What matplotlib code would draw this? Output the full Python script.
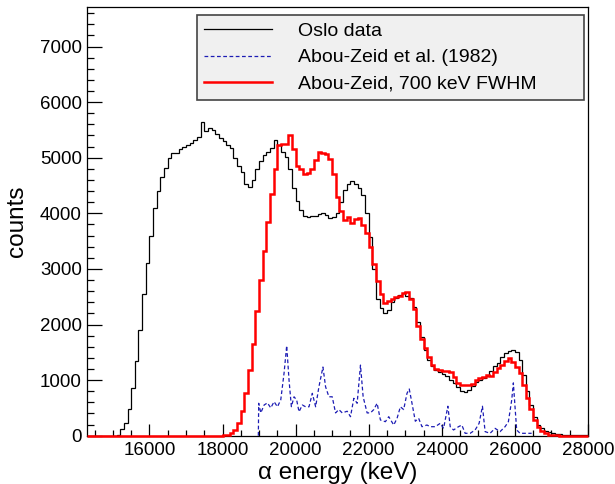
import numpy as np
import matplotlib
matplotlib.use("Agg")
import matplotlib.pyplot as plt
from matplotlib.ticker import MultipleLocator

plt.rcParams['font.family'] = ['Liberation Sans', 'DejaVu Sans']

# ---------------- data ----------------
bin_width = 100
x_min, x_max = 14300, 28000

oslo_start = 15000
oslo_counts = [0, 20, 120, 230, 480, 850, 1350, 1900, 2550, 3100,
               3600, 4100, 4400, 4650, 4820, 5000, 5080, 5090, 5150, 5200,
               5230, 5270, 5320, 5380, 5650, 5480, 5530, 5500, 5420, 5360,
               5300, 5230, 5180, 5000, 4850, 4750, 4520, 4480, 4600, 4800,
               4950, 5050, 5100, 5180, 5320, 5230, 5100, 5020, 4800, 4450,
               4220, 4060, 3950, 3940, 3950, 3960, 3980, 4010, 3970, 3920,
               3940, 4000, 4200, 4420, 4520, 4590, 4530, 4450, 4330, 4000,
               3580, 3000, 2450, 2300, 2200, 2260, 2400, 2480, 2530, 2560,
               2520, 2480, 2320, 2050, 1780, 1540, 1360, 1250, 1190, 1150,
               1110, 1080, 1000, 950, 880, 800, 790, 830, 900, 960,
               1000, 1040, 1080, 1170, 1250, 1310, 1420, 1490, 1520, 1540,
               1510, 1360, 1100, 800, 560, 340, 200, 130, 90, 60,
               40, 30, 25, 20, 15, 10, 8, 5, 5, 5]

fold_start = 18000
fold_counts = [5, 20, 50, 110, 230, 450, 760, 1180, 1650, 2250,
               2800, 3330, 3850, 4350, 4800, 5230, 5240, 5250, 5410, 5150,
               4850, 4790, 4700, 4720, 4800, 4960, 5100, 5080, 5060, 4980,
               4700, 4300, 4050, 3880, 3940, 3830, 3900, 3910, 3790, 3650,
               3400, 3080, 2780, 2540, 2380, 2420, 2460, 2500, 2520, 2560,
               2590, 2460, 2280, 1980, 1740, 1570, 1410, 1280, 1200, 1180,
               1170, 1160, 1150, 1060, 950, 920, 910, 910, 930, 1000,
               1030, 1050, 1090, 1070, 1150, 1220, 1280, 1340, 1390, 1320,
               1240, 1130, 920, 680, 480, 290, 150, 80, 40, 20,
               10, 5, 3, 2, 1, 0, 0, 0, 0, 0]

abou_energy = [18980, 18990, 19047, 19138, 19229, 19320, 19411, 19502, 19593, 19684,
               19756, 19820, 19884, 19957, 20029, 20093, 20184, 20275, 20366, 20457,
               20548, 20638, 20748, 20820, 20911, 21002, 21093, 21184, 21275, 21411,
               21502, 21593, 21684, 21775, 21848, 21957, 22048, 22139, 22230, 22321,
               22457, 22548, 22685, 22776, 22867, 22957, 23048, 23110, 23185, 23276,
               23367, 23458, 23594, 23685, 23822, 23958, 24049, 24167, 24231, 24322,
               24458, 24549, 24640, 24777, 24913, 25022, 25113, 25186, 25322, 25459,
               25595, 25732, 25823, 25914, 25959, 26004, 26050, 26141, 26459]
abou_counts = [0, 583, 410, 552, 590, 500, 612, 520, 642, 1127,
               1620, 1000, 522, 700, 642, 430, 552, 520, 520, 762,
               520, 880, 1235, 880, 700, 700, 410, 470, 410, 440,
               342, 672, 583, 1270, 700, 410, 410, 470, 583, 282,
               252, 342, 192, 312, 520, 470, 762, 840, 583, 260,
               313, 162, 192, 162, 162, 223, 132, 530, 162, 103,
               162, 192, 43, 43, 103, 223, 530, 73, 43, 132,
               73, 162, 252, 642, 950, 522, 103, 43, 43]

labels = ["Oslo data", "Abou-Zeid et al. (1982)", "Abou-Zeid, 700 keV FWHM"]
x_ticks = [16000, 18000, 20000, 22000, 24000, 26000, 28000]
y_ticks = [0, 1000, 2000, 3000, 4000, 5000, 6000, 7000]
y_max = 7705

# ---------------- build full histograms ----------------
edges = np.arange(x_min, x_max + bin_width, bin_width)
nb = len(edges) - 1
oslo = np.zeros(nb)
i0 = (oslo_start - x_min) // bin_width
oslo[i0:i0 + len(oslo_counts)] = oslo_counts
fold = np.zeros(nb)
j0 = (fold_start - x_min) // bin_width
fold[j0:j0 + len(fold_counts)] = fold_counts

# ---------------- figure ----------------
fig = plt.figure(figsize=(6.15, 4.84), dpi=100)
ax = fig.add_axes([0.142, 0.0998, 0.814, 0.885])

ax.stairs(oslo, edges, color='black', lw=0.9, label=labels[0], baseline=None, zorder=3)
ax.plot(abou_energy, abou_counts, color='#1c1cb4', lw=0.9, ls=(0, (3, 2)),
        label=labels[1], zorder=3.1)
ax.stairs(fold, edges, color='#ff0000', lw=1.8, label=labels[2], baseline=None,
          zorder=3.2, clip_on=False)

ax.set_xlim(x_min, x_max)
ax.set_ylim(0, y_max)
ax.set_xticks(x_ticks)
ax.set_yticks(y_ticks)
ax.xaxis.set_minor_locator(MultipleLocator(500))
ax.yaxis.set_minor_locator(MultipleLocator(200))
ax.tick_params(axis='both', which='both', direction='in', top=False, right=False,
               labelsize=13.5, width=0.9)
ax.tick_params(axis='y', which='major', length=10.5, pad=4)
ax.tick_params(axis='y', which='minor', length=5.3)
ax.tick_params(axis='x', which='major', length=8.5, pad=4.3)
ax.tick_params(axis='x', which='minor', length=4.3)
for s in ax.spines.values():
    s.set_linewidth(0.9)

ax.set_xlabel("\u03b1 energy (keV)", fontsize=17.5, va='top')
ax.xaxis.set_label_coords(0.5, -0.062)
ax.set_ylabel("counts", fontsize=17.5, va='center')
ax.yaxis.set_label_coords(-0.141, 0.5)

handles, labs = ax.get_legend_handles_labels()
leg = ax.legend(handles, labs, loc='upper left', bbox_to_anchor=(0.219, 0.795, 0.773, 0.187),
                mode='expand', fontsize=14, frameon=True, fancybox=False,
                handlelength=3.5, handletextpad=1.3, borderpad=0.38, labelspacing=0.45,
                borderaxespad=0)
fr = leg.get_frame()
fr.set_facecolor('#f0f0f0')
fr.set_edgecolor('#444444')
fr.set_linewidth(1.2)
fr.set_alpha(1)

fig.savefig("out.png", dpi=100)
